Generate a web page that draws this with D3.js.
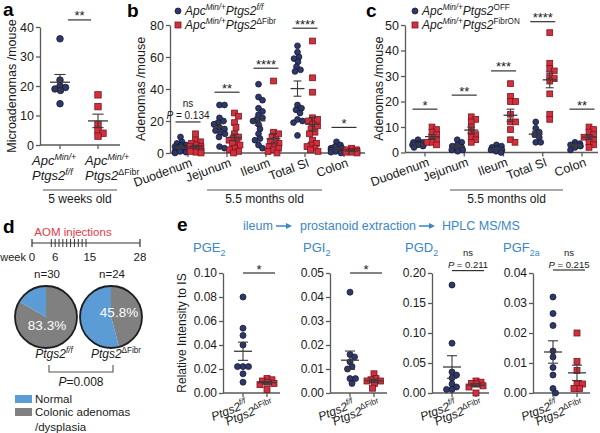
<!DOCTYPE html>
<html><head><meta charset="utf-8">
<script src="https://cdn.jsdelivr.net/npm/d3@7"></script>
<style>
body{margin:0;background:#fff}
svg{display:block}
text{font-family:"Liberation Sans",Arial,Helvetica,sans-serif}
</style>
</head><body>
<svg id="fig" width="600" height="433"></svg>
<script>
// ---------------- DATA ----------------
// panel a (microadenomas / mouse, 5 weeks old)
const aGroups = ["ff", "dFibr"];
const aFF = [36, 22, 20, 19.5, 19, 18.5, 14];
const aDF = [17, 13, 7, 5, 4, 3];
const aTicks = [0, 10, 20, 30, 40];
const aSig = "**";
const aSigLevel = 42.4;

// panel b (adenomas / mouse, 5.5 months, Ptgs2 f/f vs ΔFibr)
const bCategories = ["Duodenum", "Jejunum", "Ileum", "Total SI", "Colon"];
const bFF = [
  [10, 7, 6, 5, 5, 4, 4, 3, 3, 2, 2, 1, 1, 0.5, 0],
  [30, 30, 22, 20, 19, 18, 16, 15, 14, 13, 12, 10, 4, 3],
  [43, 35, 33, 28, 26, 24, 22, 21, 20, 18, 15, 12, 9, 8, 5, 3],
  [67, 63, 60, 59, 57, 54, 52, 51, 30, 28, 27, 25, 21, 20, 19, 11],
  [7, 5, 4, 3, 3, 2, 2, 1, 1, 0.5, 0]
];
const bDF = [
  [12, 8, 7, 6, 5, 4, 4, 3, 3, 2, 2, 1, 1, 0.5, 0],
  [25, 23, 19, 16, 12, 10, 9, 8, 7, 6, 5, 3, 2, 1, 0],
  [45, 13, 12, 10, 8, 7, 6, 5, 4, 3, 2, 1, 0],
  [70, 47, 38, 22, 21, 20, 18, 17, 15, 13, 12, 8, 6, 5, 4, 3, 2, 1],
  [3, 2, 2, 1, 1, 0.5, 0.5, 0]
];
const bTicks = [0, 20, 40, 60, 80];
const bSig = ["ns", "**", "****", "****", "*"];
const bSigP = ["0.134", null, null, null, null];
const bSigLevel = [19.4, 38, 53, 78, 16];

// panel c (Ptgs2 OFF vs FibrON)
const cCategories = ["Duodenum", "Jejunum", "Ileum", "Total SI", "Colon"];
const cOFF = [
  [5, 4, 4, 3.5, 3, 3, 3, 2.5, 2],
  [5, 4, 3, 2.5, 2, 1.5, 1, 1, 0.5],
  [3, 2.5, 2, 1.5, 1, 1, 0.5, 0],
  [12, 9.5, 8, 7, 6, 4, 4],
  [4, 3.5, 3, 3, 2.5, 2, 1]
];
const cON = [
  [10, 9, 8, 7, 6, 5, 4, 4, 3],
  [14, 13, 12, 10, 8, 7, 6, 5, 4],
  [27, 22, 20, 20, 15, 12, 12, 9, 5, 4],
  [47, 35, 33, 32, 30, 29, 28, 23, 15, 13],
  [10, 9, 8, 7, 6, 6, 5, 4, 3, 2]
];
const cTicks = [0, 10, 20, 30, 40, 50];
const cSig = ["*", "**", "***", "****", "**"];
const cSigLevel = [17, 22.5, 32, 51.3, 17];

// panel d (AOM)
const dWeekLabels = [0, 6, 15, 28];
const dInjectionWeeks = [5, 6, 7, 8, 9, 10, 11, 12, 13, 14];
const dN = [30, 24];
const dAdenomaPct = [83.3, 45.8];
const dNormalPct = [16.7, 54.2];
const dP = "0.008";

// panel e (prostanoids)
const eTitles = [["PGE", "2"], ["PGI", "2"], ["PGD", "2"], ["PGF", "2a"]];
const eFF = [
  [0.080, 0.054, 0.048, 0.040, 0.022, 0.022, 0.022, 0.016, 0.009],
  [0.042, 0.016, 0.015, 0.013, 0.011, 0.010, 0.006, 0.006, 0.004],
  [0.18, 0.083, 0.035, 0.03, 0.025, 0.015, 0.01, 0.006, 0.006],
  [0.032, 0.0265, 0.0225, 0.014, 0.012, 0.0085, 0.006, 0.0015, 0.0]
];
const eDF = [
  [0.012, 0.011, 0.010, 0.009, 0.008, 0.007, 0.003],
  [0.008, 0.006, 0.0055, 0.005, 0.005, 0.004, 0.002],
  [0.02, 0.018, 0.016, 0.015, 0.012, 0.01, 0.0],
  [0.02, 0.0105, 0.0075, 0.003, 0.003, 0.0015, 0.0015]
];
const eTicks = [
  [0, 0.02, 0.04, 0.06, 0.08, 0.10],
  [0, 0.01, 0.02, 0.03, 0.04, 0.05],
  [0, 0.05, 0.10, 0.15, 0.20],
  [0, 0.01, 0.02, 0.03, 0.04]
];
const eSig = ["*", "*", "ns", "ns"];
const eSigP = [null, null, "0.211", "0.215"];
const eSigLevel = [0.10, 0.05, 0.204, 0.041];

// ---------------- STYLE ----------------
const NAVY = "#2f3866", NAVY_S = "#15193a";
const RED = "#d3303d", RED_S = "#7a1520";
const AX = "#5a5a5a", TXT = "#1a1a1a";
const PIE_BLUE = "#5b9bd6", PIE_GRAY = "#808080";
const E_BLUE = "#3a86c8", AOM_RED = "#e63946";

const svg = d3.select("#fig");

function rich(g, x, y, parts, size, anchor, fill) {
  const t = g.append("text").attr("x", x).attr("y", y)
    .attr("font-size", size).attr("text-anchor", anchor || "start")
    .attr("fill", fill || TXT);
  let shift = 0;
  parts.forEach(p => {
    const s = t.append("tspan").text(p.t);
    if (p.i) s.attr("font-style", "italic");
    const target = p.sup ? -size * 0.4 : (p.sub ? size * 0.28 : 0);
    const fs = (p.sup || p.sub) ? size * 0.68 : size;
    s.attr("font-size", fs).attr("dy", target - shift);
    shift = target;
  });
  return t;
}

// deterministic compact beeswarm: limited horizontal spread, overlap allowed
function swarm(ys, r, maxOff) {
  const order = ys.map((y, i) => ({ y, i })).sort((a, b) => a.y - b.y);
  const placed = [];
  const minD = 2 * r * 0.85;
  const cands = [0];
  for (let s = 0.5; s <= maxOff + 1e-9; s += 0.5) { cands.push(s, -s); }
  order.forEach(p => {
    let best = 0, bestCost = Infinity;
    cands.forEach(off => {
      let cost = Math.abs(off) * 0.03;
      placed.forEach(q => {
        const d = Math.hypot(q.dx - off, q.y - p.y);
        if (d < minD) cost += (minD - d);
      });
      if (cost < bestCost - 1e-9) { bestCost = cost; best = off; }
    });
    p.dx = best;
    placed.push(p);
  });
  return placed;
}

function dots(g, cx, values, y, kind, r, maxOff) {
  const pts = swarm(values.map(y), r, maxOff);
  if (kind === "c") {
    g.selectAll(null).data(pts).join("circle")
      .attr("cx", d => cx + d.dx).attr("cy", d => d.y).attr("r", r)
      .attr("fill", NAVY).attr("stroke", NAVY_S).attr("stroke-width", 0.8);
  } else {
    g.selectAll(null).data(pts).join("rect")
      .attr("x", d => cx + d.dx - r).attr("y", d => d.y - r)
      .attr("width", 2 * r).attr("height", 2 * r)
      .attr("fill", RED).attr("stroke", RED_S).attr("stroke-width", 0.8);
  }
}

function meanSem(g, cx, values, y, w) {
  const m = d3.mean(values);
  const s = d3.deviation(values) / Math.sqrt(values.length);
  const c = "#3a3a3a";
  g.append("line").attr("x1", cx - w / 2).attr("x2", cx + w / 2).attr("y1", y(m)).attr("y2", y(m))
    .attr("stroke", c).attr("stroke-width", 1.3);
  g.append("line").attr("x1", cx).attr("x2", cx).attr("y1", y(m - s)).attr("y2", y(m + s))
    .attr("stroke", c).attr("stroke-width", 1.1);
  [m - s, m + s].forEach(v => g.append("line").attr("x1", cx - w * 0.28).attr("x2", cx + w * 0.28)
    .attr("y1", y(v)).attr("y2", y(v)).attr("stroke", c).attr("stroke-width", 1.1));
}

function styleAxis(ax, size) {
  ax.attr("font-family", null).attr("font-size", size);
  ax.selectAll("path,line").attr("stroke", AX).attr("stroke-width", 1.3);
  ax.selectAll("text").attr("fill", TXT);
}

function sigMark(g, x1, x2, yLine, label, p, size) {
  g.append("line").attr("x1", x1).attr("x2", x2).attr("y1", yLine).attr("y2", yLine)
    .attr("stroke", "#333").attr("stroke-width", 1.2);
  const xm = (x1 + x2) / 2;
  if (label === "ns") {
    g.append("text").attr("x", xm).attr("y", yLine - (p ? size + 5 : 3)).attr("text-anchor", "middle")
      .attr("font-size", size).attr("fill", TXT).text("ns");
    if (p) rich(g, xm, yLine - 2.5, [{ t: "P", i: true }, { t: " = " + p }], size, "middle");
  } else {
    g.append("text").attr("x", xm).attr("y", yLine + 0.5).attr("text-anchor", "middle")
      .attr("font-size", 13).attr("fill", TXT).text(label);
  }
}

function panelLetter(x, y, l) {
  svg.append("text").attr("x", x).attr("y", y).attr("font-size", 19).attr("font-weight", "bold")
    .attr("fill", "#000").text(l);
}

function underline(x1, x2, yl, label) {
  svg.append("line").attr("x1", x1).attr("x2", x2).attr("y1", yl).attr("y2", yl)
    .attr("stroke", "#555").attr("stroke-width", 1.2);
  svg.append("text").attr("x", (x1 + x2) / 2).attr("y", yl + 13).attr("text-anchor", "middle")
    .attr("font-size", 12).attr("fill", TXT).text(label);
}

// ---------------- PANEL A ----------------
(function () {
  const g = svg.append("g");
  const y = d3.scaleLinear().domain([0, 40]).range([145, 27]);
  const x = d3.scalePoint().domain(aGroups).range([60, 98]);
  const x0 = 40, x1 = 120;
  const ax = g.append("g").attr("transform", `translate(${x0},0)`)
    .call(d3.axisLeft(y).tickValues(aTicks).tickSize(4).tickSizeOuter(0).tickPadding(2));
  styleAxis(ax, 12.5);
  g.append("line").attr("x1", x0).attr("x2", x1).attr("y1", y(0)).attr("y2", y(0)).attr("stroke", AX).attr("stroke-width", 1.3);
  aGroups.forEach(k => g.append("line").attr("x1", x(k)).attr("x2", x(k)).attr("y1", y(0)).attr("y2", y(0) + 4).attr("stroke", AX).attr("stroke-width", 1.3));
  dots(g, x("ff"), aFF, y, "c", 3.3, 6);
  dots(g, x("dFibr"), aDF, y, "s", 3.2, 6);
  meanSem(g, x("ff"), aFF, y, 20);
  meanSem(g, x("dFibr"), aDF, y, 20);
  sigMark(g, x("ff") + 8, x("dFibr") - 7, y(aSigLevel), aSig, null, 11);
  g.append("text").attr("transform", `translate(16,${(y(0) + y(40)) / 2}) rotate(-90)`)
    .attr("text-anchor", "middle").attr("font-size", 12.5).attr("fill", TXT).text("Microadenomas /mouse");
  rich(g, x("ff") - 28, 165, [{ t: "Apc", i: true }, { t: "Min/+", i: true, sup: true }], 13);
  rich(g, x("ff") - 28, 180, [{ t: "Ptgs2", i: true }, { t: "f/f", i: true, sup: true }], 13);
  rich(g, x("dFibr") - 13, 165, [{ t: "Apc", i: true }, { t: "Min/+", i: true, sup: true }], 13);
  rich(g, x("dFibr") - 13, 180, [{ t: "Ptgs2", i: true }, { t: "ΔFibr", sup: true }], 13);
  underline(43, 117, 190, "5 weeks old");
  panelLetter(3, 16, "a");
})();

// ---------------- PANELS B & C ----------------
function groupedPanel(opts) {
  const g = svg.append("g");
  const y = d3.scaleLinear().domain(opts.domain).range(opts.yRange);
  const x = d3.scalePoint().domain(opts.cats).range(opts.xRange);
  const ax = g.append("g").attr("transform", `translate(${opts.x0},0)`)
    .call(d3.axisLeft(y).tickValues(opts.ticks).tickSize(4).tickSizeOuter(0).tickPadding(2));
  styleAxis(ax, 12.5);
  const y0 = y(0);
  g.append("line").attr("x1", opts.x0).attr("x2", opts.x1).attr("y1", y0).attr("y2", y0).attr("stroke", AX).attr("stroke-width", 1.3);
  opts.cats.forEach((c, i) => {
    const cx = x(c);
    g.append("line").attr("x1", cx).attr("x2", cx).attr("y1", y0).attr("y2", y0 + 4).attr("stroke", AX).attr("stroke-width", 1.3);
    g.append("text").attr("transform", `translate(${cx + 5},${y0 + 13}) rotate(-20)`)
      .attr("text-anchor", "end").attr("font-size", 12.5).attr("fill", TXT).text(c);
    dots(g, cx - opts.off, opts.A[i], y, "c", 2.9, 5.5);
    dots(g, cx + opts.off, opts.B[i], y, "s", 2.9, 5.5);
    meanSem(g, cx - opts.off, opts.A[i], y, 14);
    meanSem(g, cx + opts.off, opts.B[i], y, 14);
    sigMark(g, cx - 12.5, cx + 12.5, y(opts.sigLevel[i]), opts.sig[i], opts.sigP ? opts.sigP[i] : null, 10);
  });
  g.append("text").attr("transform", `translate(${opts.labelX},${(opts.yRange[0] + opts.yRange[1]) / 2}) rotate(-90)`)
    .attr("text-anchor", "middle").attr("font-size", 12.5).attr("fill", TXT).text("Adenomas /mouse");
  // legend
  const lx = opts.legX;
  g.append("circle").attr("cx", lx).attr("cy", 11).attr("r", 3).attr("fill", NAVY).attr("stroke", NAVY_S).attr("stroke-width", 0.8);
  g.append("rect").attr("x", lx - 3).attr("y", 22).attr("width", 6).attr("height", 6).attr("fill", RED).attr("stroke", RED_S).attr("stroke-width", 0.8);
  rich(g, lx + 7, 15, opts.leg1, 12);
  rich(g, lx + 7, 29, opts.leg2, 12);
  underline(opts.under[0], opts.under[1], 190, "5.5 months old");
  panelLetter(opts.letterX, 17, opts.letter);
}

const apc = [{ t: "Apc", i: true }, { t: "Min/+", i: true, sup: true }, { t: "Ptgs2", i: true }];
groupedPanel({
  cats: bCategories, A: bFF, B: bDF, domain: [0, 80], yRange: [153, 25], xRange: [188, 344],
  x0: 170, x1: 365, off: 7.5, ticks: bTicks, sig: bSig, sigP: bSigP, sigLevel: bSigLevel,
  labelX: 145, legX: 178,
  leg1: apc.concat([{ t: "f/f", i: true, sup: true }]),
  leg2: apc.concat([{ t: "ΔFibr", sup: true }]),
  under: [207, 322], letter: "b", letterX: 127
});
groupedPanel({
  cats: cCategories, A: cOFF, B: cON, domain: [0, 50], yRange: [152.5, 25], xRange: [425, 582],
  x0: 405, x1: 598, off: 7, ticks: cTicks, sig: cSig, sigP: null, sigLevel: cSigLevel,
  labelX: 383, legX: 415,
  leg1: apc.concat([{ t: "OFF", sup: true }]),
  leg2: apc.concat([{ t: "FibrON", sup: true }]),
  under: [450, 563], letter: "c", letterX: 366
});

// ---------------- PANEL D ----------------
(function () {
  const g = svg.append("g");
  panelLetter(3, 233, "d");
  const wx = d3.scaleLinear().domain([0, 28]).range([32, 140]);
  const ty = 243;
  g.append("text").attr("x", 73).attr("y", 236).attr("text-anchor", "middle")
    .attr("font-size", 11.5).attr("fill", AOM_RED).text("AOM injections");
  g.append("line").attr("x1", wx(0)).attr("x2", wx(28)).attr("y1", ty).attr("y2", ty).attr("stroke", "#333").attr("stroke-width", 1.2);
  [0, 28].forEach(w => g.append("line").attr("x1", wx(w)).attr("x2", wx(w)).attr("y1", ty - 4).attr("y2", ty + 4).attr("stroke", "#333").attr("stroke-width", 1.2));
  dInjectionWeeks.forEach(w => g.append("line").attr("x1", wx(w)).attr("x2", wx(w)).attr("y1", ty - 4).attr("y2", ty + 4).attr("stroke", "#333").attr("stroke-width", 1));
  g.append("text").attr("x", 26).attr("y", 261).attr("text-anchor", "end").attr("font-size", 11).attr("fill", TXT).text("week");
  dWeekLabels.forEach(w => g.append("text").attr("x", wx(w)).attr("y", 261).attr("text-anchor", "middle")
    .attr("font-size", 11.5).attr("fill", TXT).text(w));

  const cxs = d3.scalePoint().domain([0, 1]).range([46, 111]);
  const cy = 317, R = 31;
  const pie = d3.pie().sort(null).value(d => d);
  const arc = d3.arc().innerRadius(0).outerRadius(R);
  const pctPos = [[1, 13], [8, 0]];
  dN.forEach((n, i) => {
    const cx = cxs(i);
    const pg = g.append("g").attr("transform", `translate(${cx},${cy})`);
    pg.selectAll("path").data(pie([dAdenomaPct[i], dNormalPct[i]])).join("path")
      .attr("d", arc).attr("fill", (d, j) => j === 0 ? PIE_GRAY : PIE_BLUE);
    pg.append("circle").attr("r", R).attr("fill", "none").attr("stroke", "#1e1e1e").attr("stroke-width", 1.8);
    pg.append("text").attr("x", pctPos[i][0]).attr("y", pctPos[i][1]).attr("text-anchor", "middle")
      .attr("font-size", 13.5).attr("fill", "#fff").text(dAdenomaPct[i].toFixed(1) + "%");
    g.append("text").attr("x", cx + 1).attr("y", 278).attr("text-anchor", "middle")
      .attr("font-size", 11.5).attr("fill", TXT).text("n=" + n);
  });
  rich(g, cxs(0) + 8, 358, [{ t: "Ptgs2", i: true }, { t: "f/f", i: true, sup: true }], 12, "middle");
  rich(g, cxs(1) + 5, 358, [{ t: "Ptgs2", i: true }, { t: "ΔFibr", sup: true }], 12, "middle");
  g.append("path").attr("d", `M49,365V372H113V365`).attr("fill", "none").attr("stroke", "#555").attr("stroke-width", 1.1);
  rich(g, 81, 386, [{ t: "P", i: true }, { t: "=" + dP }], 12, "middle");
  g.append("rect").attr("x", 15).attr("y", 395).attr("width", 17).attr("height", 8).attr("fill", PIE_BLUE);
  g.append("rect").attr("x", 15).attr("y", 408).attr("width", 17).attr("height", 8).attr("fill", PIE_GRAY);
  g.append("text").attr("x", 35).attr("y", 403).attr("font-size", 11.5).attr("fill", TXT).text("Normal");
  g.append("text").attr("x", 35).attr("y", 416).attr("font-size", 11.5).attr("fill", TXT).text("Colonic adenomas");
  g.append("text").attr("x", 35).attr("y", 431).attr("font-size", 11.5).attr("fill", TXT).text("/dysplasia");
})();

// ---------------- PANEL E ----------------
(function () {
  const g = svg.append("g");
  panelLetter(177, 231, "e");
  const hy = 230;
  function arrow(x1, x2, yy) {
    g.append("line").attr("x1", x1).attr("x2", x2 - 4).attr("y1", yy).attr("y2", yy).attr("stroke", E_BLUE).attr("stroke-width", 1.5);
    g.append("path").attr("d", `M${x2},${yy}L${x2 - 6},${yy - 3}L${x2 - 6},${yy + 3}Z`).attr("fill", E_BLUE);
  }
  g.append("text").attr("x", 243).attr("y", hy).attr("font-size", 12.5).attr("fill", E_BLUE).text("ileum");
  arrow(276, 292, hy - 4);
  g.append("text").attr("x", 300).attr("y", hy).attr("font-size", 12.5).attr("fill", E_BLUE).text("prostanoid extraction");
  arrow(419, 435, hy - 4);
  g.append("text").attr("x", 442).attr("y", hy).attr("font-size", 12.5).attr("fill", E_BLUE).text("HPLC MS/MS");

  const axX = [223, 330, 432, 533];
  const titleX = [193, 303, 405, 503];
  const fmt = d3.format(".2f");
  eTitles.forEach((tt, i) => {
    const x0 = axX[i];
    const ticks = eTicks[i];
    const y = d3.scaleLinear().domain([0, ticks[ticks.length - 1]]).range([393, 273]);
    const xs = d3.scalePoint().domain(["ff", "df"]).range([x0 + 20, x0 + 44]);
    const ax = g.append("g").attr("transform", `translate(${x0},0)`)
      .call(d3.axisLeft(y).tickValues(ticks).tickFormat(fmt).tickSize(4).tickSizeOuter(0).tickPadding(2));
    styleAxis(ax, 12);
    g.append("line").attr("x1", x0).attr("x2", x0 + 57).attr("y1", y(0)).attr("y2", y(0)).attr("stroke", AX).attr("stroke-width", 1.3);
    ["ff", "df"].forEach(k => g.append("line").attr("x1", xs(k)).attr("x2", xs(k)).attr("y1", y(0)).attr("y2", y(0) + 4).attr("stroke", AX).attr("stroke-width", 1.3));
    dots(g, xs("ff"), eFF[i], y, "c", 3, 7);
    dots(g, xs("df"), eDF[i], y, "s", 3, 7);
    meanSem(g, xs("ff"), eFF[i], y, 18);
    meanSem(g, xs("df"), eDF[i], y, 18);
    rich(g, titleX[i], 252, [{ t: tt[0] }, { t: tt[1], sub: true }], 13, "start", E_BLUE);
    sigMark(g, xs("ff"), xs("df") + 8, y(eSigLevel[i]), eSig[i], eSigP[i], 9.5);
    const y0 = y(0);
    const t1 = g.append("g").attr("transform", `translate(${xs("ff") + 5},${y0 + 14}) rotate(-22)`);
    rich(t1, 0, 0, [{ t: "Ptgs2", i: true }, { t: "f/f", i: true, sup: true }], 12, "end");
    const t2 = g.append("g").attr("transform", `translate(${xs("df") + 7},${y0 + 14}) rotate(-22)`);
    rich(t2, 0, 0, [{ t: "Ptgs2", i: true }, { t: "ΔFibr", sup: true }], 12, "end");
  });
  g.append("text").attr("transform", `translate(186,333) rotate(-90)`).attr("text-anchor", "middle")
    .attr("font-size", 12).attr("fill", TXT).text("Relative Intensity to IS");
})();
</script>
</body></html>
